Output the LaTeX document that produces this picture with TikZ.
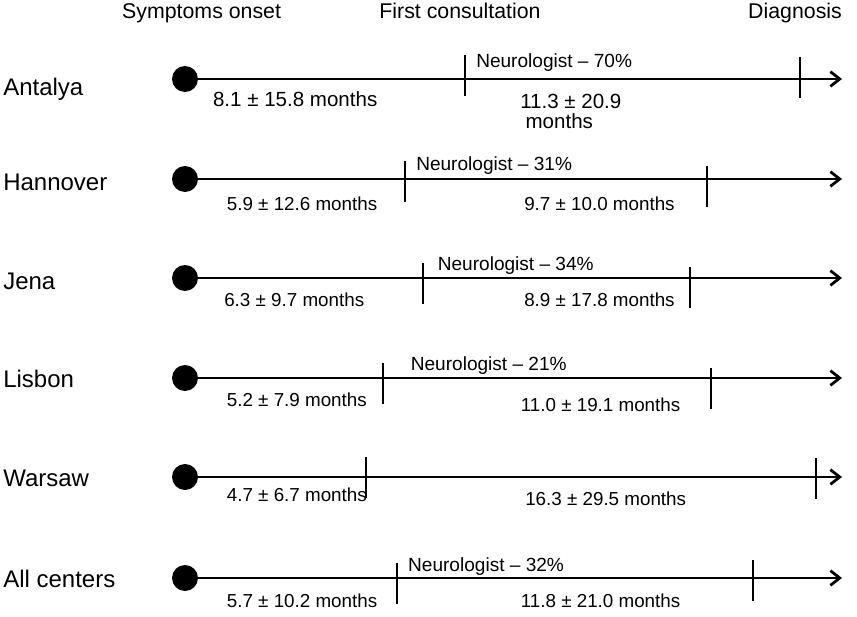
\documentclass[tikz,border=0pt]{standalone}
\usepackage{fontspec}
\setmainfont{Liberation Sans}
\usetikzlibrary{arrows.meta}

\begin{document}
\begin{tikzpicture} [
        x=0.75pt, y=-0.75pt,
        onset/.style={circle, fill=black, minimum size=19.5pt, inner sep=0},
        tick/.style={rectangle, fill=black, minimum width=2.1pt, minimum height=30.75pt, inner sep=0, anchor=north},
        axis/.style={line width=2.1pt, -{Straight Barb[length=7pt, width=11pt]}},
        city/.style={anchor=base west, inner sep=0, font=\fontsize{18}{20}\selectfont},
        head/.style={anchor=base, inner sep=0, font=\fontsize{16}{19}\selectfont},
        neuro/.style={anchor=base west, inner sep=0, font=\fontsize{14.3}{17}\selectfont},
        span/.style={anchor=base west, inner sep=0, font=\fontsize{14.1}{17}\selectfont}
    ]
        \useasboundingbox (0,0) rectangle (857,617);

        \node[head] (h-onset) at (201.6,18.3) {Symptoms onset};
        \node[head] (h-first) at (460,18.3) {First consultation};
        \node[head] (h-diag) at (795,18.3) {Diagnosis};

        \foreach \id/\y/\cy/\city/\ta/\tatop/\tb/\tbtop in {
                ant/79/95/Antalya/465/55/800/57,
                han/179/190.6/Hannover/405/161/707/166,
                jen/278/289.6/Jena/423/263/690/267,
                lis/378/387.6/Lisbon/383/363/711/368,
                war/477/486.6/Warsaw/366/457/816/458,
                all/578/587/All centers/397/563/753/560} {
            \node[city] (\id-n) at (3,\cy) {\city};
            \node[onset] (\id-o) at (185,\y) {};
            \coordinate (\id-e) at (842,\y);
            \draw[axis] (\id-o) -- (\id-e);
            \node[tick] (\id-a) at (\ta,\tatop) {};
            \node[tick] (\id-b) at (\tb,\tbtop) {};
        }

        \node[neuro] (ant-neuro) at (476,68) {Neurologist – 70\%};
        \node[span, font=\fontsize{15.4}{14.5}\selectfont] (ant-l) at (212.8,107) {8.1 ± 15.8 months};
        \node[span, font=\fontsize{15.4}{14.5}\selectfont, align=left] (ant-r) at (520,128.3) {11.3 ± 20.9\\\hspace{4pt}months};

        \node[neuro] (han-neuro) at (416,170.7) {Neurologist – 31\%};
        \node[span] (han-l) at (226.6,210.7) {5.9 ± 12.6 months};
        \node[span] (han-r) at (524,210.7) {9.7 ± 10.0 months};

        \node[neuro] (jen-neuro) at (437.6,270.7) {Neurologist – 34\%};
        \node[span] (jen-l) at (224,306.7) {6.3 ± 9.7 months};
        \node[span] (jen-r) at (524,306.7) {8.9 ± 17.8 months};

        \node[neuro] (lis-neuro) at (410.6,370) {Neurologist – 21\%};
        \node[span] (lis-l) at (226.6,406.7) {5.2 ± 7.9 months};
        \node[span] (lis-r) at (520.6,411.7) {11.0 ± 19.1 months};

        \node[span] (war-l) at (226.6,501.7) {4.7 ± 6.7 months};
        \node[span] (war-r) at (525,505) {16.3 ± 29.5 months};

        \node[neuro] (all-neuro) at (407.9,571.7) {Neurologist – 32\%};
        \node[span] (all-l) at (226.6,607) {5.7 ± 10.2 months};
        \node[span] (all-r) at (520.6,607) {11.8 ± 21.0 months};
    \end{tikzpicture}
\end{document}
